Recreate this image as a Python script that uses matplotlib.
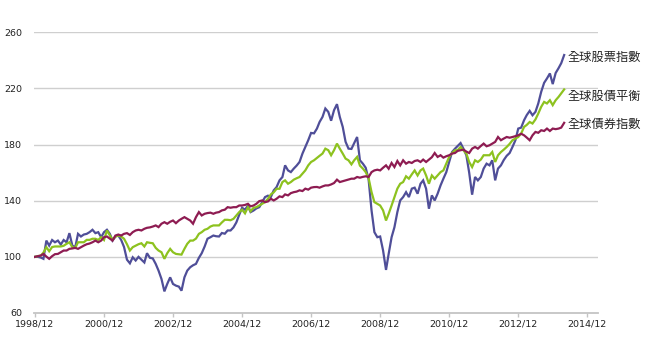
import matplotlib
matplotlib.use("Agg")
import matplotlib.pyplot as plt
import matplotlib.dates as mdates
import pandas as pd

# monthly index levels, 1998/12 = 100
stock_idx = [
    100,
    # 1999
    100, 99.5, 98.6, 111.6, 108, 112, 110.4, 111.6, 108.8, 112, 110.4, 116.9,
    # 2000
    108, 106.9, 116.4, 114.5, 115.9, 116.4, 117.6, 119.3, 116.9, 117.6, 114, 117.6,
    # 2001
    119.3, 116.4, 111.6, 114.5, 115.2, 112, 107, 98, 95.4, 99.7, 97.4, 100,
    # 2002
    98, 96, 102.6, 99.3, 98.9, 95, 90.2, 84.3, 75.4, 80.7, 85.4, 80.7,
    # 2003
    79.5, 78.8, 75.9, 85.4, 90.2, 92.6, 94, 95, 99.3, 102.6, 107.4, 112.9,
    # 2004
    114, 115.2, 114.7, 114.5, 117, 116.5, 118.8, 118.8, 121, 124.5, 130, 135,
    # 2005
    133.6, 136.6, 131.9, 133, 134.5, 135.4, 139, 142.6, 143.6, 142.6, 147.4, 149.7,
    # 2006
    154.5, 156.9, 165.2, 161.6, 160.4, 162.9, 165, 167.6, 173.6, 178.3, 183.1, 188.3,
    # 2007
    188, 191.4, 196.1, 199.7, 205.7, 203.3, 197, 204.5, 208.8, 199.7, 192.6, 182,
    # 2008
    177.1, 176.9, 181, 185.4, 168.8, 166.4, 163.5, 155, 133, 117.6, 114, 114.5,
    # 2009
    104.5, 90.7, 102.1, 114, 121.1, 131.9, 140.2, 142.6, 146.1, 142.6, 148.6, 149.3,
    # 2010
    145, 152.1, 154.5, 148.6, 134.3, 143.8, 140.2, 145, 150.9, 155.7, 160.4, 167.6,
    # 2011
    174.7, 177.1, 179, 181.1, 177.1, 172.4, 160, 144.3, 156.9, 154.5, 156.9, 162.9,
    # 2012
    166.4, 165.2, 168.8, 154.5, 162.9, 165.2, 169, 172, 174, 178.3, 183.1, 191.4,
    # 2013
    192.1, 197.4, 201, 204, 200.9, 203.3, 209.3, 217.6, 224, 227.1, 230.7, 223.1,
    # 2014
    231, 234.5, 238, 243.8,
]

balanced_idx = [
    100,
    100.5, 100.9, 103, 106.9, 104, 107, 107.4, 107.4, 107.4, 107.9, 109.3, 110.4,
    106.9, 106.4, 110.4, 110.4, 110.4, 112.1, 112.1, 112.9, 112.9, 112.1, 114, 112,
    118.8, 115.2, 112.1, 114.5, 115.2, 114.5, 112.9, 109, 104.5, 106.9, 108, 109,
    109.7, 107.4, 110.4, 110, 109.7, 106.4, 104.5, 103.3, 98.6, 102.6, 105.7, 103.3,
    102.1, 101.8, 101.6, 105.7, 109.3, 111.6, 111.6, 113, 116.4, 117.6, 119.3, 120,
    121.6, 122.4, 122.4, 122.4, 124.5, 126.4, 126.4, 126.1, 127.1, 129.5, 131.9, 133.6,
    131, 135.4, 132.5, 135, 135.4, 136.6, 137.8, 139, 141.4, 144.5, 146, 148.5,
    148.5, 153.3, 154.5, 152.1, 153.3, 155, 156, 156.9, 159.3, 161.6, 165.2, 167.6,
    168.8, 170.5, 172, 173.6, 177.1, 176, 172.4, 176, 180.7, 177.1, 173.6, 170,
    168.8, 165.9, 168.8, 171.2, 165, 162.9, 160.4, 156, 146.1, 139, 137.8, 136.6,
    133.1, 125.9, 130.7, 136.6, 142.6, 148.6, 152.1, 153.3, 157.4, 155.7, 158.8, 161.6,
    158, 161.6, 162.9, 158, 152.1, 158, 155.7, 158, 160.4, 161.6, 166.4, 171.2,
    174, 175.9, 176, 178.3, 175.9, 173.6, 167.6, 164, 168.8, 167.6, 169.3, 172.4,
    172.4, 172.4, 174.7, 167.6, 172.4, 174.7, 176.4, 178.3, 180.5, 183.1, 184.3, 185.4,
    187.9, 192.6, 194, 196.1, 195, 197.9, 202.1, 206.9, 210.4, 209.3, 211.6, 208.1,
    211.6, 214, 216.5, 219.3,
]

bond_idx = [
    100,
    100.5, 100.9, 102.1, 100.2, 98.6, 100.5, 101.9, 102.1, 103.3, 104.5, 104.5, 105.7,
    106, 106.4, 105.7, 106.9, 108, 109, 109.5, 110.4, 111.6, 110.4, 111.6, 114,
    114.5, 113, 111.6, 115.2, 115.9, 115.2, 116.4, 116.9, 115.6, 117.6, 118.8, 119.3,
    118.8, 120, 120.7, 121, 121.6, 122.4, 121.2, 123.6, 124.7, 123.6, 125, 125.9,
    124, 125.9, 127.1, 128.3, 127.1, 125.9, 123.6, 128.3, 131.9, 129.5, 130.7, 131.2,
    131.5, 130.7, 131.5, 131.9, 133.1, 133.6, 135.4, 135, 135.4, 135.4, 136.6, 136.6,
    137, 137.8, 136, 136.6, 137.8, 139.7, 140.2, 139, 139.5, 141.4, 140.2, 141.4,
    143.1, 142.6, 144.5, 143.8, 145.4, 146.1, 146.5, 147.4, 146.9, 148.6, 147.9, 149.3,
    149.7, 149.8, 149.3, 150.2, 150.9, 150.9, 151.6, 152.6, 155, 153.3, 153.9, 154.5,
    155, 155.7, 155.7, 156.9, 156.4, 157, 157.4, 156.9, 160.4, 161.6, 162.1, 161.6,
    163.5, 165.2, 162.8, 166.9, 164, 168.3, 165.2, 168.8, 166.4, 167.6, 166.9, 168.3,
    168.8, 167.6, 169.3, 167.6, 169.3, 171, 174, 171.2, 172.4, 170.7, 171.7, 172.4,
    173.6, 174, 175.5, 176, 176.4, 175, 174, 177.1, 178.3, 177.1, 179, 180.7,
    178.8, 179.5, 180.7, 181.9, 185.4, 183.1, 184.3, 185.4, 184.9, 185.4, 186, 186.6,
    187.7, 186.6, 185, 183.1, 186.6, 189, 188.4, 190.2, 189.7, 191.4, 189.7, 191.4,
    191, 191.4, 192.1, 195.5,
]

series_names = ["全球股票指數", "全球股債平衡", "全球債券指數"]
series_colors = ["#4F4E98", "#8DC21F", "#8E1C52"]
y_ticks = [60, 100, 140, 180, 220, 260]
x_tick_labels = ["1998/12", "2000/12", "2002/12", "2004/12", "2006/12",
                 "2008/12", "2010/12", "2012/12", "2014/12"]

dates = pd.date_range("1998-12-01", periods=len(stock_idx), freq="MS")
tick_dates = pd.to_datetime([s.replace("/", "-") + "-01" for s in x_tick_labels])

W, H = 650, 350
fig = plt.figure(figsize=(W / 100, H / 100), dpi=100)
ax = fig.add_axes([33.5 / W, 37 / H, (598 - 33.5) / W, (313 - 32.3) / H])

for vals, col in [(stock_idx, series_colors[0]),
                  (balanced_idx, series_colors[1]),
                  (bond_idx, series_colors[2])]:
    ax.plot(dates, vals, color=col, lw=1.6, solid_joinstyle="miter", zorder=3)

ax.set_ylim(60, 260)
ax.set_xlim(pd.Timestamp("1998-11-16"), pd.Timestamp("2015-03-25"))
ax.set_yticks(y_ticks)
ax.set_xticks(tick_dates)
ax.set_xticklabels(x_tick_labels)

for v in y_ticks[1:]:
    ax.axhline(v, color="#CFCFCF", lw=1.0, zorder=1)

for s in ["top", "right", "left"]:
    ax.spines[s].set_visible(False)
ax.spines["bottom"].set_color("#C4C4C4")
ax.spines["bottom"].set_linewidth(1.3)

ax.tick_params(axis="y", length=0, pad=8, labelsize=6.8, labelcolor="#222222")
ax.tick_params(axis="x", length=3, width=1, color="#C4C4C4", pad=2,
               labelsize=6.8, labelcolor="#222222")

# end-of-line labels
label_y = [57, 96, 124]
for name, yp in zip(series_names, label_y):
    fig.text(568 / W, 1 - yp / H, name, ha="left", va="center",
             fontsize=8.8, color="#222222",
             family=["Noto Sans CJK TC", "DejaVu Sans"],
             bbox=dict(facecolor="white", edgecolor="none", pad=0.5))

fig.savefig("out.png", dpi=100, facecolor="white")
